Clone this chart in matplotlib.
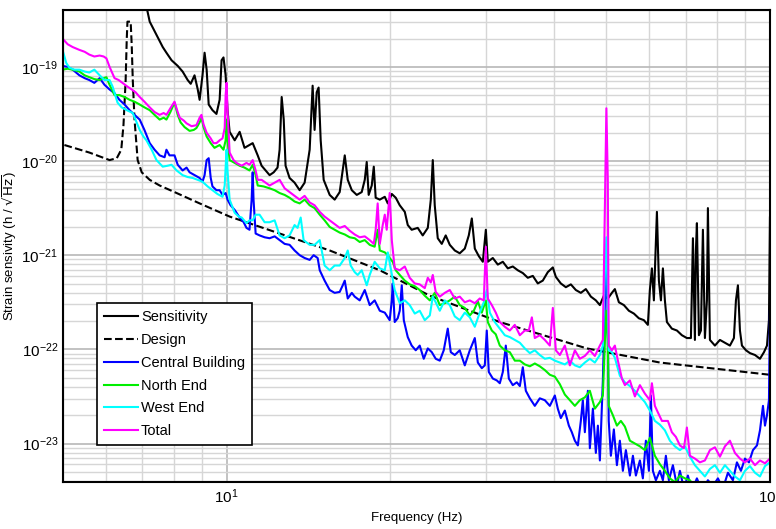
import numpy as np
import matplotlib
matplotlib.use("Agg")
import matplotlib.pyplot as plt

plt.rcParams['font.family'] = ['Liberation Sans', 'DejaVu Sans']
plt.rcParams['mathtext.default'] = 'regular'
plt.rcParams['font.size'] = 9.5

# frequency in Hz, strain as log10(h / sqrt(Hz))
sens_f = [7.09, 7.22, 7.43, 7.63, 7.75, 7.92, 8.13, 8.30, 8.48, 8.59, 8.73, 8.85, 8.92, 9.03, 9.11, 9.19,
          9.27, 9.42, 9.58, 9.71, 9.79, 9.87, 9.96, 10.04, 10.13, 10.35, 10.57, 10.79, 11.02, 11.17, 11.41,
          11.60, 11.80, 12.00, 12.21, 12.41, 12.52, 12.63, 12.74, 12.84, 13.06, 13.34, 13.63, 13.92, 14.22,
          14.40, 14.52, 14.65, 14.77, 14.90, 15.09, 15.48, 15.81, 16.15, 16.36, 16.50, 16.71, 17.00, 17.36,
          17.73, 17.96, 18.11, 18.26, 18.50, 18.66, 18.81, 19.14, 19.55, 19.80, 20.14, 20.48, 20.83, 21.28,
          21.55, 21.91, 22.48, 22.96, 23.46, 23.76, 23.96, 24.16, 24.47, 24.89, 25.31, 25.75, 26.30, 26.86,
          27.44, 27.91, 28.27, 28.63, 29.12, 29.62, 30.00, 30.25, 30.90, 31.56, 32.24, 32.93, 33.63, 34.35,
          35.09, 35.84, 36.61, 37.39, 38.19, 39.01, 39.85, 40.36, 41.22, 42.11, 43.01, 43.93, 44.87, 45.83,
          46.82, 47.82, 48.64, 49.47, 50.32, 51.18, 51.83, 52.72, 53.85, 55.00, 56.18, 57.38, 58.61, 59.61,
          60.12, 60.64, 61.15, 61.67, 61.94, 62.46, 63.00, 63.53, 64.07, 64.62, 65.99, 67.42, 68.86, 70.33,
          71.54, 72.15, 72.76, 73.07, 73.38, 74.01, 74.64, 75.27, 75.91, 76.56, 76.88, 77.54, 79.20, 80.90,
          82.63, 84.40, 85.84, 86.58, 87.31, 88.06, 88.81, 90.33, 91.88, 93.85, 95.86, 97.50, 98.75, 99.58, 100.0]
sens_log = [-18.31, -18.52, -18.66, -18.79, -18.85, -18.93, -18.99, -19.05, -19.14, -19.18, -19.09, -19.24,
            -19.35, -19.09, -18.85, -19.03, -19.40, -19.46, -19.50, -19.35, -18.93, -18.90, -19.09, -19.46,
            -19.69, -19.78, -19.69, -19.86, -19.83, -19.81, -19.94, -20.05, -20.10, -20.15, -20.12, -20.07,
            -19.88, -19.32, -19.56, -20.05, -20.18, -20.23, -20.31, -20.23, -19.88, -19.20, -19.67, -19.27,
            -19.22, -19.78, -20.20, -20.36, -20.41, -20.33, -20.10, -19.94, -20.20, -20.31, -20.36, -20.33,
            -20.20, -20.01, -20.36, -20.26, -20.06, -20.39, -20.41, -20.38, -20.45, -20.35, -20.39, -20.47,
            -20.54, -20.68, -20.73, -20.71, -20.79, -20.71, -20.41, -19.99, -20.47, -20.82, -20.88, -20.79,
            -20.89, -20.95, -20.98, -20.93, -20.79, -20.61, -20.93, -21.01, -21.07, -20.73, -21.07, -21.03,
            -21.10, -21.07, -21.14, -21.12, -21.16, -21.19, -21.24, -21.22, -21.30, -21.27, -21.18, -21.13,
            -21.23, -21.30, -21.34, -21.31, -21.37, -21.40, -21.36, -21.44, -21.48, -21.53, -21.43, -21.46,
            -21.40, -21.36, -21.50, -21.53, -21.59, -21.62, -21.67, -21.69, -21.74, -21.37, -21.14, -21.48,
            -20.84, -20.54, -21.27, -21.48, -21.14, -21.48, -21.71, -21.78, -21.80, -21.85, -21.88, -21.88,
            -20.82, -21.90, -20.95, -20.66, -21.85, -21.80, -20.73, -21.88, -21.48, -20.50, -21.90, -21.96,
            -21.90, -21.93, -21.96, -21.88, -21.48, -21.32, -21.80, -21.96, -22.01, -22.04, -22.06, -22.10,
            -22.03, -21.96, -21.69, -20.60]

design_f = [5.03, 5.59, 6.09, 6.28, 6.40, 6.46, 6.52, 6.55, 6.57, 6.66, 6.69, 6.72, 6.77, 6.86, 6.98, 7.22,
            7.53, 8.02, 8.92, 10.13, 12.52, 15.48, 19.14, 23.66, 31.83, 46.03, 62.73, 100.0]
design_log = [-19.83, -19.91, -19.99, -19.97, -19.88, -19.62, -19.14, -18.71, -18.52, -18.52, -18.77,
              -19.14, -19.56, -19.99, -20.12, -20.20, -20.26, -20.33, -20.45, -20.59, -20.77, -20.95,
              -21.16, -21.43, -21.71, -21.99, -22.14, -22.27]

central_f = [4.99, 5.10, 5.21, 5.36, 5.48, 5.59, 5.71, 5.84, 5.96, 6.09, 6.22, 6.35, 6.49, 6.63, 6.77, 6.92,
             7.06, 7.22, 7.37, 7.53, 7.69, 7.75, 7.85, 8.02, 8.13, 8.30, 8.44, 8.55, 8.73, 8.92, 9.03, 9.11,
             9.19, 9.27, 9.35, 9.42, 9.58, 9.71, 9.83, 9.96, 10.04, 10.17, 10.35, 10.57, 10.75, 10.88, 11.02,
             11.12, 11.17, 11.21, 11.31, 11.50, 11.75, 12.00, 12.26, 12.52, 12.79, 13.06, 13.34, 13.63, 13.92,
             14.22, 14.46, 14.71, 14.84, 15.15, 15.48, 15.81, 16.15, 16.36, 16.50, 16.71, 17.00, 17.21, 17.58,
             17.96, 18.34, 18.73, 19.14, 19.55, 19.96, 20.14, 20.22, 20.39, 20.65, 20.83, 21.01, 21.19, 21.55,
             21.91, 22.29, 22.67, 23.06, 23.46, 23.86, 24.26, 24.68, 25.10, 25.53, 25.86, 26.30, 26.86, 27.44,
             28.03, 28.63, 29.00, 29.49, 29.87, 30.12, 30.38, 30.90, 31.43, 31.83, 32.24, 32.65, 33.07, 33.63,
             34.21, 34.65, 35.09, 35.54, 36.15, 36.92, 37.71, 38.52, 39.35, 40.19, 40.70, 41.22, 41.93, 42.65,
             43.19, 43.75, 44.31, 44.87, 45.25, 45.64, 46.23, 46.62, 47.22, 47.82, 48.23, 48.64, 49.26, 49.7,
             50.0, 50.3, 50.5, 50.96, 51.61, 52.28, 52.94, 53.62, 54.31, 55.24, 55.95, 56.66, 57.63, 58.36,
             59.11, 59.87, 60.38, 60.89, 61.67, 62.73, 63.53, 64.34, 65.16, 66.28, 67.42, 68.28, 69.45, 70.63,
             71.84, 73.38, 74.95, 76.88, 78.53, 80.22, 81.93, 83.69, 85.48, 86.94, 88.43, 89.95, 91.49, 93.05,
             94.65, 95.86, 97.09, 97.92, 98.75, 99.58, 100.0]
central_log = [-18.99, -19.00, -19.03, -19.09, -19.12, -19.14, -19.17, -19.12, -19.19, -19.24, -19.28, -19.35,
               -19.40, -19.46, -19.51, -19.56, -19.67, -19.81, -19.88, -19.94, -19.96, -19.88, -19.94, -19.94,
               -20.04, -20.10, -20.07, -20.12, -20.15, -20.18, -20.22, -20.15, -19.99, -19.97, -20.18, -20.27,
               -20.31, -20.31, -20.36, -20.34, -20.41, -20.47, -20.52, -20.60, -20.65, -20.71, -20.73, -20.41,
               -20.12, -20.41, -20.77, -20.79, -20.81, -20.82, -20.80, -20.84, -20.88, -20.89, -20.95, -21.00,
               -21.03, -21.05, -21.00, -21.03, -21.16, -21.27, -21.37, -21.40, -21.39, -21.32, -21.27, -21.46,
               -21.40, -21.44, -21.48, -21.37, -21.53, -21.48, -21.59, -21.61, -21.69, -21.48, -21.30, -21.71,
               -21.67, -21.59, -21.32, -21.69, -21.87, -21.96, -22.01, -21.96, -22.10, -21.99, -22.03, -22.10,
               -22.12, -22.01, -21.78, -22.03, -22.06, -22.01, -22.17, -22.01, -21.88, -22.14, -22.20, -22.17,
               -21.80, -22.24, -22.31, -22.33, -22.36, -22.24, -21.96, -22.31, -22.38, -22.35, -22.39, -22.19,
               -22.44, -22.52, -22.60, -22.52, -22.54, -22.60, -22.49, -22.63, -22.73, -22.65, -22.81, -22.88,
               -22.97, -23.02, -22.76, -22.54, -22.88, -22.44, -23.05, -22.63, -23.10, -22.81, -23.18, -22.33,
               -21.48, -20.95, -21.69, -22.76, -23.13, -22.85, -23.23, -22.97, -23.29, -23.07, -23.34, -23.13,
               -23.34, -23.18, -23.37, -22.97, -23.29, -22.49, -23.29, -23.39, -23.29, -23.39, -23.13, -23.39,
               -23.23, -23.45, -23.29, -23.48, -23.34, -23.50, -23.37, -23.50, -23.39, -23.45, -23.37, -23.48,
               -23.31, -23.39, -23.20, -23.29, -23.16, -23.20, -23.07, -23.02, -22.86, -22.60, -22.81, -22.70,
               -22.54, -21.59]

north_f = [4.99, 5.10, 5.21, 5.36, 5.48, 5.59, 5.71, 5.84, 5.94, 6.01, 6.09, 6.22, 6.35, 6.49, 6.63, 6.77,
           6.92, 7.06, 7.22, 7.37, 7.53, 7.66, 7.75, 7.88, 8.02, 8.13, 8.23, 8.37, 8.55, 8.70, 8.80, 8.92, 8.99,
           9.07, 9.19, 9.35, 9.50, 9.71, 9.87, 9.96, 10.0, 10.04, 10.13, 10.35, 10.57, 10.79, 11.02, 11.17,
           11.31, 11.41, 11.70, 12.00, 12.26, 12.52, 12.79, 13.06, 13.34, 13.63, 13.92, 14.22, 14.52, 14.84,
           15.15, 15.48, 15.81, 16.15, 16.50, 16.85, 17.21, 17.58, 17.96, 18.34, 18.73, 18.97, 19.14, 19.55,
           19.80, 19.96, 20.22, 20.48, 20.83, 21.28, 21.73, 22.20, 22.67, 23.16, 23.66, 24.16, 24.68, 25.21,
           25.75, 26.30, 26.86, 27.44, 28.03, 28.51, 29.00, 29.49, 30.00, 30.25, 30.77, 31.29, 31.83, 32.51,
           33.21, 33.92, 34.65, 35.39, 36.15, 36.92, 37.71, 38.52, 39.35, 40.19, 41.05, 41.93, 42.83, 43.75,
           44.68, 45.64, 46.62, 47.62, 48.64, 49.26, 49.7, 50.0, 50.3, 50.5, 51.40, 52.28, 53.17, 54.08, 55.24,
           56.42, 57.63, 58.86, 60.12, 61.41, 62.73, 64.07, 65.44, 66.85, 68.28, 69.74, 71.24, 72.76, 74.32,
           77.54, 80.90, 88.06, 100.0]
north_log = [-19.03, -19.02, -19.03, -19.05, -19.09, -19.11, -19.13, -19.14, -19.12, -19.11, -19.19, -19.30,
             -19.30, -19.32, -19.35, -19.37, -19.40, -19.43, -19.46, -19.51, -19.56, -19.54, -19.56, -19.48,
             -19.38, -19.51, -19.59, -19.64, -19.68, -19.67, -19.65, -19.59, -19.54, -19.64, -19.74, -19.81,
             -19.86, -19.83, -19.88, -19.78, -19.56, -19.78, -19.99, -20.02, -20.05, -20.07, -20.10, -20.04,
             -20.15, -20.26, -20.27, -20.29, -20.31, -20.34, -20.36, -20.39, -20.43, -20.45, -20.41, -20.47,
             -20.50, -20.57, -20.63, -20.70, -20.73, -20.76, -20.78, -20.81, -20.82, -20.86, -20.84, -20.89,
             -20.91, -20.73, -20.95, -20.97, -21.00, -21.03, -21.07, -21.16, -21.21, -21.27, -21.31, -21.33,
             -21.37, -21.43, -21.48, -21.40, -21.53, -21.51, -21.48, -21.44, -21.53, -21.56, -21.64, -21.59,
             -21.49, -21.61, -21.48, -21.71, -21.80, -21.84, -21.96, -22.01, -22.03, -22.12, -22.12, -22.16,
             -22.18, -22.15, -22.18, -22.22, -22.27, -22.29, -22.37, -22.48, -22.54, -22.60, -22.54, -22.51,
             -22.44, -22.63, -22.56, -22.49, -21.90, -21.59, -21.90, -22.60, -22.70, -22.81, -22.76, -22.82,
             -22.97, -23.00, -23.03, -23.07, -22.94, -23.13, -23.22, -23.29, -23.37, -23.41, -23.34, -23.37,
             -23.39, -23.46, -23.50, -23.52, -23.55, -23.59, -23.61]

west_f = [4.99, 5.03, 5.07, 5.14, 5.25, 5.36, 5.48, 5.59, 5.71, 5.84, 5.96, 6.09, 6.17, 6.30, 6.41, 6.55,
          6.72, 6.83, 6.92, 7.03, 7.12, 7.28, 7.43, 7.63, 7.79, 7.92, 8.09, 8.30, 8.48, 8.66, 8.85, 9.03, 9.23,
          9.42, 9.62, 9.83, 9.92, 10.0, 10.04, 10.13, 10.35, 10.53, 10.66, 10.88, 11.02, 11.17, 11.31, 11.50,
          11.75, 12.00, 12.26, 12.52, 12.79, 13.06, 13.34, 13.51, 13.69, 13.86, 14.22, 14.52, 14.84, 15.15,
          15.48, 15.81, 16.15, 16.50, 16.71, 16.92, 17.21, 17.43, 17.73, 18.11, 18.34, 18.73, 19.14, 19.55,
          19.80, 20.05, 20.39, 20.83, 21.28, 21.73, 22.20, 22.67, 23.16, 23.66, 23.96, 24.26, 24.68, 25.21,
          25.75, 26.30, 26.86, 27.44, 28.03, 28.63, 29.24, 29.74, 30.12, 30.51, 31.16, 31.83, 32.51, 33.21,
          33.92, 34.65, 35.39, 36.15, 36.92, 37.71, 38.52, 39.35, 40.19, 41.05, 41.93, 42.83, 43.75, 44.68,
          45.64, 46.62, 47.62, 48.64, 49.26, 49.7, 50.0, 50.3, 50.5, 51.18, 51.83, 52.94, 54.08, 55.24, 56.42,
          57.63, 58.86, 60.12, 61.41, 62.73, 64.07, 65.44, 66.85, 68.28, 69.74, 71.24, 72.76, 74.32, 75.91,
          77.54, 79.20, 80.90, 82.63, 84.40, 86.21, 88.06, 89.95, 91.88, 93.85, 95.86, 97.92, 100.0]
west_log = [-18.82, -18.89, -18.96, -19.01, -19.03, -19.03, -19.05, -19.06, -19.03, -19.09, -19.14, -19.14,
            -19.21, -19.38, -19.43, -19.46, -19.49, -19.59, -19.67, -19.74, -19.78, -19.88, -19.99, -20.06,
            -20.05, -20.04, -20.10, -20.15, -20.17, -20.18, -20.20, -20.22, -20.27, -20.31, -20.35, -20.38,
            -20.26, -19.88, -20.10, -20.41, -20.55, -20.59, -20.60, -20.66, -20.63, -20.63, -20.57, -20.57,
            -20.65, -20.65, -20.63, -20.79, -20.82, -20.79, -20.68, -20.71, -20.60, -20.84, -20.89, -20.89,
            -20.84, -21.11, -21.16, -21.11, -21.11, -21.03, -20.95, -21.11, -21.18, -21.21, -21.16, -21.32,
            -21.21, -21.07, -21.14, -21.16, -20.97, -21.14, -21.37, -21.51, -21.48, -21.53, -21.62, -21.59,
            -21.69, -21.64, -21.44, -21.50, -21.59, -21.48, -21.53, -21.65, -21.69, -21.61, -21.66, -21.76,
            -21.61, -21.50, -21.37, -21.61, -21.71, -21.78, -21.85, -21.87, -21.90, -21.93, -21.99, -22.04,
            -22.01, -22.06, -22.10, -22.09, -22.12, -22.14, -22.16, -22.12, -22.17, -22.19, -22.14, -22.10,
            -22.14, -22.06, -21.96, -21.16, -20.81, -21.48, -22.01, -22.03, -22.09, -22.28, -22.35, -22.39,
            -22.44, -22.50, -22.56, -22.65, -22.76, -22.80, -22.86, -22.97, -23.03, -23.07, -23.03, -23.14,
            -23.23, -23.29, -23.35, -23.27, -23.23, -23.31, -23.23, -23.29, -23.35, -23.39, -23.29, -23.24,
            -23.31, -23.35, -23.24, -23.20]

total_f = [4.99, 5.10, 5.21, 5.36, 5.48, 5.59, 5.71, 5.84, 5.94, 6.01, 6.09, 6.22, 6.33, 6.43, 6.57, 6.69,
           6.80, 6.92, 7.06, 7.22, 7.37, 7.53, 7.66, 7.75, 7.88, 8.02, 8.13, 8.20, 8.34, 8.44, 8.62, 8.80, 8.92,
           8.99, 9.07, 9.19, 9.35, 9.46, 9.58, 9.71, 9.83, 9.92, 9.96, 10.0, 10.04, 10.13, 10.30, 10.43, 10.66,
           10.88, 11.02, 11.17, 11.31, 11.41, 11.60, 11.80, 12.00, 12.26, 12.52, 12.79, 13.06, 13.34, 13.63,
           13.92, 14.22, 14.52, 14.84, 15.15, 15.48, 15.81, 16.15, 16.50, 16.85, 17.21, 17.58, 17.96, 18.34,
           18.66, 18.81, 18.97, 19.14, 19.38, 19.55, 19.71, 19.88, 19.96, 20.14, 20.39, 20.83, 21.28, 21.73,
           22.20, 22.67, 23.16, 23.46, 23.76, 23.96, 24.26, 24.68, 25.21, 25.75, 26.30, 26.86, 27.44, 28.03,
           28.63, 29.24, 29.74, 30.00, 30.25, 30.77, 31.29, 31.83, 32.51, 33.21, 33.92, 34.65, 35.39, 35.99,
           36.46, 36.92, 37.71, 38.52, 39.35, 39.85, 40.36, 41.05, 41.93, 42.83, 43.75, 44.68, 45.64, 46.62,
           47.62, 48.64, 49.26, 49.7, 50.0, 50.3, 50.5, 51.18, 51.83, 52.50, 53.40, 54.08, 55.24, 56.42, 57.63,
           58.86, 60.12, 60.64, 61.41, 62.20, 63.27, 64.89, 65.99, 67.13, 68.28, 69.45, 70.33, 71.24, 72.76,
           74.32, 75.91, 77.54, 79.20, 80.90, 82.63, 84.40, 86.21, 88.06, 89.95, 91.88, 93.85, 95.86, 97.92,
           100.0]
total_log = [-18.70, -18.76, -18.79, -18.82, -18.84, -18.87, -18.89, -18.88, -18.89, -18.91, -19.00, -19.12,
             -19.14, -19.17, -19.21, -19.24, -19.27, -19.32, -19.37, -19.43, -19.48, -19.51, -19.49, -19.51,
             -19.44, -19.37, -19.48, -19.54, -19.57, -19.60, -19.63, -19.62, -19.54, -19.51, -19.61, -19.70,
             -19.76, -19.81, -19.81, -19.78, -19.76, -19.65, -19.30, -19.17, -19.46, -19.91, -19.99, -20.02,
             -20.05, -20.02, -20.04, -19.99, -20.10, -20.20, -20.20, -20.23, -20.26, -20.23, -20.20, -20.29,
             -20.33, -20.37, -20.41, -20.37, -20.44, -20.47, -20.54, -20.59, -20.63, -20.67, -20.71, -20.69,
             -20.74, -20.78, -20.81, -20.80, -20.84, -20.88, -20.73, -20.45, -20.88, -20.68, -20.57, -20.73,
             -20.47, -20.34, -20.84, -21.14, -21.16, -21.12, -21.24, -21.30, -21.31, -21.35, -21.24, -21.29,
             -21.21, -21.39, -21.44, -21.40, -21.37, -21.46, -21.44, -21.50, -21.48, -21.51, -21.46, -21.48,
             -20.91, -21.46, -21.53, -21.61, -21.71, -21.76, -21.80, -21.74, -21.85, -21.80, -21.80, -21.66,
             -21.88, -21.85, -21.90, -21.96, -21.56, -22.01, -22.06, -21.96, -22.17, -22.01, -22.10, -22.07,
             -22.01, -22.07, -21.96, -21.90, -20.41, -19.44, -20.20, -21.96, -22.01, -21.96, -22.12, -22.31,
             -22.38, -22.33, -22.50, -22.38, -22.47, -22.54, -22.36, -22.60, -22.67, -22.76, -22.76, -22.88,
             -22.93, -23.02, -23.05, -22.83, -23.13, -23.16, -23.20, -23.18, -23.07, -23.04, -23.14, -23.03,
             -22.97, -23.10, -23.16, -23.20, -23.16, -23.23, -23.18, -23.21, -23.16]

series = [
    ("Sensitivity", sens_f, sens_log, "black", "-"),
    ("Design", design_f, design_log, "black", "--"),
    ("Central Building", central_f, central_log, "#0000ff", "-"),
    ("North End", north_f, north_log, "#00ee00", "-"),
    ("West End", west_f, west_log, "#00ffff", "-"),
    ("Total", total_f, total_log, "#ff00ff", "-"),
]

fig = plt.figure(figsize=(7.76, 5.29), dpi=100)
ax = fig.add_axes([0.0812, 0.0888, 0.911, 0.892])

for name, f, lg, col, ls in series:
    ax.plot(f, 10.0 ** np.array(lg), color=col, linestyle=ls, linewidth=1.5, label=name)

ax.set_xscale("log")
ax.set_yscale("log")
ax.set_xlim(5, 100)
ax.set_ylim(3.9e-24, 4.0e-19)

ax.grid(True, which="major", color="#b8b8b8", linewidth=1.2)
ax.grid(True, which="minor", color="#d6d6d6", linewidth=1.0)
ax.set_axisbelow(True)
ax.tick_params(which="both", direction="in", length=0, labelsize=11)
ax.tick_params(axis="x", pad=4)
ax.xaxis.set_minor_formatter(matplotlib.ticker.NullFormatter())
for s in ax.spines.values():
    s.set_linewidth(1.5)

ax.set_xlabel("Frequency (Hz)", labelpad=4)
ax.set_ylabel(r"Strain sensivity (h / $\sqrt{\mathrm{Hz}}$)", labelpad=2)

leg = ax.legend(loc="lower left", bbox_to_anchor=(0.038, 0.062), fancybox=False,
                edgecolor="black", framealpha=1, handlelength=2.3, handletextpad=0.2,
                labelspacing=0.6, borderpad=0.5, fontsize=10.5)
leg.get_frame().set_linewidth(1.2)

fig.savefig("out.png", dpi=100)
